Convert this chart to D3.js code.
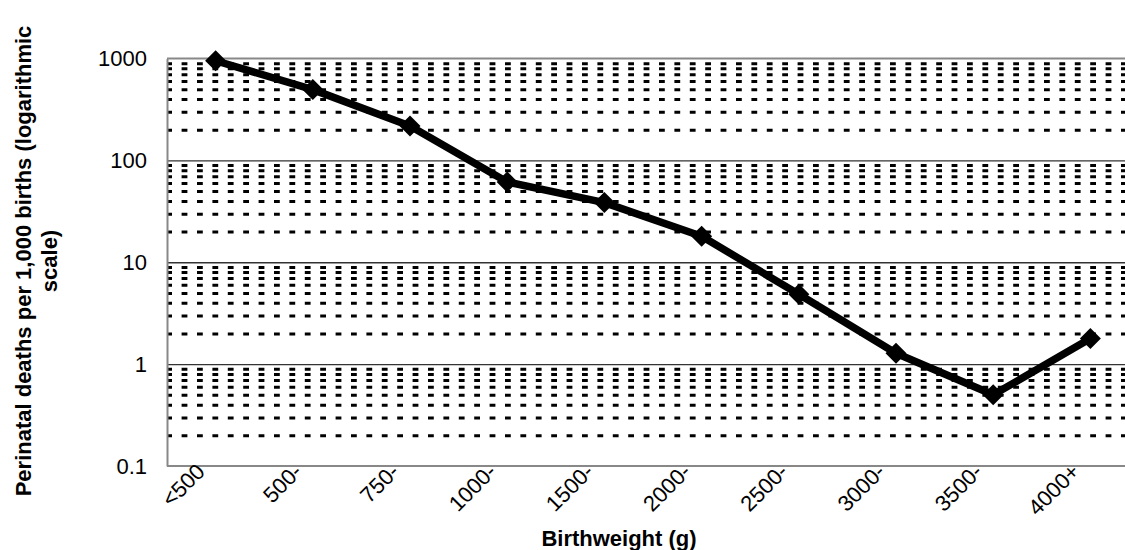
<!DOCTYPE html>
<html>
<head>
<meta charset="utf-8">
<script src="https://cdn.jsdelivr.net/npm/d3@7"></script>
<style>
  html, body { margin: 0; padding: 0; background: #fff; overflow: hidden; }
  svg { display: block; font-family: "Liberation Sans", Arial, sans-serif; }
</style>
</head>
<body>
<svg id="chart" width="1125" height="550"></svg>
<script>
const categories = ["<500", "500-", "750-", "1000-", "1500-", "2000-", "2500-", "3000-", "3500-", "4000+"];
const deaths = [950, 495, 218, 61.5, 38.5, 18, 4.85, 1.28, 0.5, 1.78];
const majorTicks = [0.1, 1, 10, 100, 1000];
const majorLabels = ["0.1", "1", "10", "100", "1000"];
const xTitle = "Birthweight (g)";
const yTitleLines = ["Perinatal deaths per 1,000 births (logarithmic", "scale)"];

(function () {
const svg = d3.select("#chart");
const plotL = 167, plotR = 1139, plotT = 58.5, plotB = 466;

const x = d3.scalePoint().domain(categories).range([plotL, plotR]).padding(0.5);
const y = d3.scaleLog().domain([0.1, 1000]).range([plotB, plotT]);

const minorTicks = y.ticks().filter(v => Math.abs(Math.log10(v) - Math.round(Math.log10(v))) > 1e-9);

// minor dashed gridlines
const gMinor = svg.append("g").attr("transform", `translate(${plotL},0)`)
  .call(d3.axisLeft(y).tickValues(minorTicks).tickSize(-(1125 - plotL + 20)).tickFormat(""));
gMinor.select(".domain").remove();
gMinor.selectAll("line")
  .attr("stroke", "#000").attr("stroke-width", 3)
  .attr("stroke-dasharray", "5.8,9.6").attr("stroke-dashoffset", 0.8);

// major solid gridlines
const gMajor = svg.append("g").attr("transform", `translate(${plotL},0)`)
  .call(d3.axisLeft(y).tickValues(majorTicks.filter(v => v > 0.1 && v < 1000)).tickSize(-(1125 - plotL + 20)).tickFormat(""));
gMajor.select(".domain").remove();
gMajor.selectAll("line").attr("stroke", "#333").attr("stroke-width", 1.4);

// plot border top
svg.append("line").attr("x1", plotL).attr("x2", 1125).attr("y1", y(1000)).attr("y2", y(1000))
  .attr("stroke", "#888").attr("stroke-width", 2);

// y axis labels
const gY = svg.append("g").attr("transform", `translate(${plotL},0)`)
  .call(d3.axisLeft(y).tickValues(majorTicks).tickSize(0).tickPadding(20)
    .tickFormat((d, i) => majorLabels[i]));
gY.select(".domain").attr("stroke", "#888").attr("stroke-width", 2);
gY.selectAll("text").attr("font-size", 22).attr("fill", "#000")
  .attr("font-family", "'Liberation Sans', Arial, sans-serif");

// x axis
const gX = svg.append("g").attr("transform", `translate(0,${plotB})`)
  .call(d3.axisBottom(x).tickSize(0).tickSizeOuter(0));
gX.select(".domain").attr("d", `M${plotL},0H1125`).attr("stroke", "#888").attr("stroke-width", 2);
gX.selectAll(".tick text")
  .attr("font-size", 22).attr("fill", "#000")
  .attr("font-family", "'Liberation Sans', Arial, sans-serif")
  .attr("text-anchor", "end")
  .attr("dy", null).attr("y", null)
  .attr("transform", "translate(-10,7) rotate(-45)");

// line
const data = categories.map((c, i) => ({ c, v: deaths[i] }));
svg.append("path").datum(data)
  .attr("fill", "none").attr("stroke", "#000").attr("stroke-width", 7.5)
  .attr("stroke-linejoin", "round")
  .attr("d", d3.line().x(d => x(d.c)).y(d => y(d.v)));

// markers
svg.selectAll(".marker").data(data).enter().append("path")
  .attr("class", "marker")
  .attr("transform", d => `translate(${x(d.c)},${y(d.v)})`)
  .attr("d", "M0,-10.5L10.5,0L0,10.5L-10.5,0Z")
  .attr("fill", "#000");

// axis titles
svg.append("text").attr("x", 619).attr("y", 546).attr("text-anchor", "middle")
  .attr("font-size", 22).attr("font-weight", "bold").text(xTitle);

const yt = svg.append("text").attr("transform", "translate(31,261) rotate(-90)")
  .attr("text-anchor", "middle").attr("font-size", 22).attr("font-weight", "bold");
yTitleLines.forEach((t, i) => {
  yt.append("tspan").attr("x", 0).attr("y", i * 26).text(t);
});
})();
</script>
</body>
</html>
